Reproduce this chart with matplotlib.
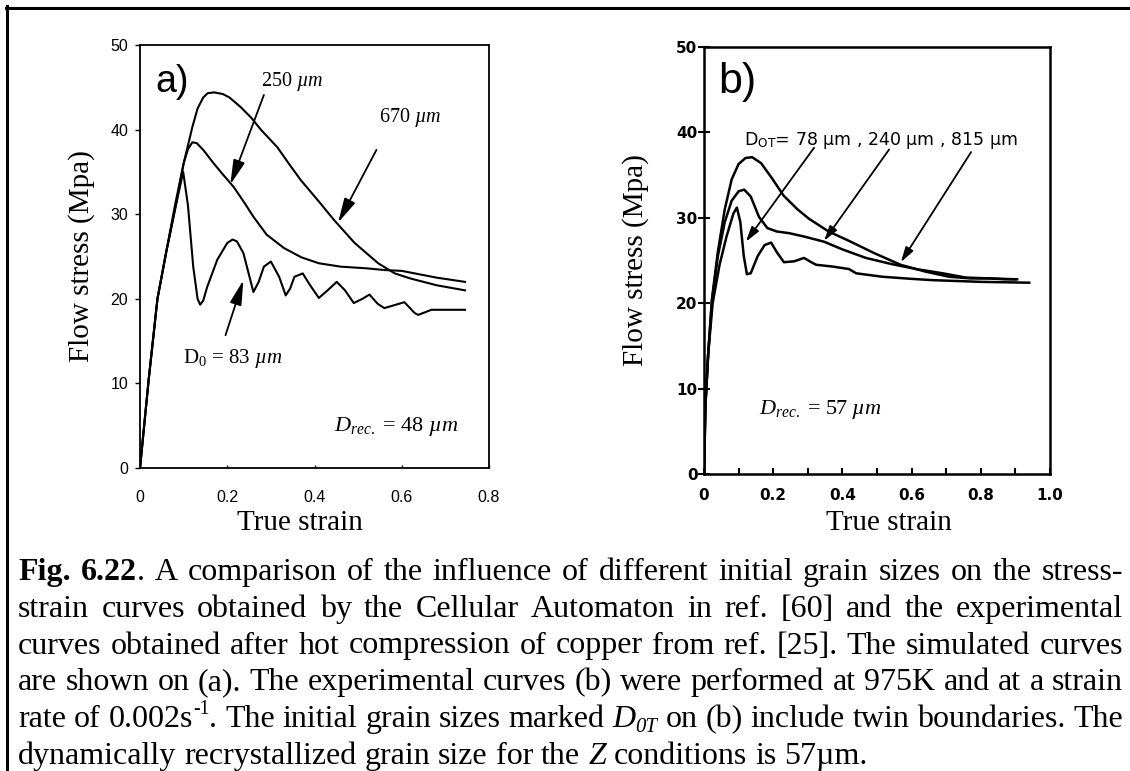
import matplotlib
matplotlib.use("Agg")
import matplotlib.pyplot as plt
from matplotlib.lines import Line2D
from matplotlib.transforms import IdentityTransform

plt.rcParams['mathtext.fontset'] = 'custom'
plt.rcParams['mathtext.rm'] = 'Liberation Serif'
plt.rcParams['mathtext.it'] = 'Liberation Serif:italic'
plt.rcParams['mathtext.bf'] = 'Liberation Serif:bold'

# ---------------- data: panel a (simulated, CA) ----------------
a_strain_670 = [0, 0.02, 0.04, 0.06, 0.08, 0.10, 0.12, 0.132, 0.145, 0.155, 0.17, 0.19, 0.205,
                0.23, 0.255, 0.277, 0.315, 0.345, 0.369, 0.41, 0.445, 0.492, 0.546, 0.584,
                0.62, 0.68, 0.745]
a_stress_670 = [0, 10.5, 20, 25.5, 31, 36, 40.3, 42.5, 43.8, 44.3, 44.4, 44.2, 43.8,
                42.7, 41.4, 40.0, 37.9, 35.7, 34.0, 31.5, 29.3, 26.6, 24.2, 23.0,
                22.4, 21.6, 21.0]

a_strain_250 = [0, 0.02, 0.04, 0.06, 0.08, 0.10, 0.11, 0.12, 0.13, 0.145, 0.169, 0.19, 0.215,
                0.24, 0.26, 0.29, 0.33, 0.37, 0.41, 0.46, 0.52, 0.56, 0.60, 0.68, 0.745]
a_stress_250 = [0, 10.5, 20, 25.5, 30.5, 36, 37.7, 38.5, 38.4, 37.6, 36.0, 34.7, 33.2,
                31.3, 29.7, 27.6, 26.0, 24.9, 24.2, 23.8, 23.6, 23.4, 23.3, 22.5, 22.0]

a_strain_83 = [0, 0.02, 0.04, 0.06, 0.08, 0.099, 0.11, 0.122, 0.132, 0.138, 0.145, 0.154, 0.177,
               0.20, 0.212, 0.222, 0.237, 0.249, 0.26, 0.272, 0.284, 0.30, 0.319, 0.334, 0.344,
               0.354, 0.373, 0.39, 0.41, 0.43, 0.451, 0.47, 0.49, 0.51, 0.526, 0.545, 0.56, 0.58,
               0.606, 0.63, 0.638, 0.668, 0.70, 0.745]
a_stress_83 = [0, 10.5, 20, 25.5, 30.5, 35, 31, 23.8, 20.0, 19.3, 19.8, 21.4, 24.6,
               26.6, 27.0, 26.8, 25.4, 23.0, 20.8, 22.0, 23.8, 24.4, 22.6, 20.4, 21.2,
               22.6, 23.0, 21.6, 20.1, 21.0, 22.0, 21.0, 19.5, 20.0, 20.5, 19.4, 18.9, 19.2,
               19.6, 18.3, 18.1, 18.7, 18.7, 18.7]

# ---------------- data: panel b (experimental) ----------------
b_strain_815 = [0, 0.004, 0.012, 0.023, 0.04, 0.06, 0.08, 0.10, 0.12, 0.139, 0.165, 0.197,
                0.23, 0.27, 0.303, 0.36, 0.419, 0.49, 0.568, 0.64, 0.708, 0.77, 0.824, 0.87, 0.905]
b_stress_815 = [0, 8, 14, 20.5, 26, 31, 34.5, 36.3, 37.0, 37.1, 36.4, 34.6,
                32.6, 31.0, 29.9, 28.4, 27.3, 25.9, 24.5, 23.7, 23.1, 22.9, 22.9, 22.8, 22.8]

b_strain_240 = [0, 0.004, 0.012, 0.023, 0.04, 0.06, 0.08, 0.10, 0.116, 0.135, 0.159, 0.183,
                0.21, 0.246, 0.29, 0.347, 0.40, 0.468, 0.54, 0.613, 0.69, 0.757, 0.83, 0.90]
b_stress_240 = [0, 8, 14, 20.3, 25.5, 29.5, 32, 33.1, 33.3, 32.5, 30.1, 28.8,
                28.4, 28.2, 27.8, 27.2, 26.3, 25.3, 24.6, 24.0, 23.5, 23.0, 22.9, 22.8]

b_strain_78 = [0, 0.004, 0.012, 0.025, 0.045, 0.065, 0.085, 0.095, 0.105, 0.115, 0.124, 0.135,
               0.155, 0.175, 0.194, 0.21, 0.231, 0.26, 0.289, 0.31, 0.324, 0.37, 0.419, 0.44,
               0.515, 0.60, 0.66, 0.80, 0.94]
b_stress_78 = [0, 8, 14, 20, 24.5, 27.8, 30.5, 31.2, 29.5, 25.5, 23.4, 23.5,
               25.5, 26.8, 27.1, 26.0, 24.8, 24.9, 25.3, 24.8, 24.5, 24.3, 24.0, 23.5,
               23.1, 22.85, 22.7, 22.5, 22.4]

a_yticks = [0, 10, 20, 30, 40, 50]
a_xticks = [0, 0.2, 0.4, 0.6, 0.8]
a_xticklabels = ["0", "0.2", "0.4", "0.6", "0.8"]
b_yticks = [0, 10, 20, 30, 40, 50]
b_xticks = [0, 0.1, 0.2, 0.3, 0.4, 0.5, 0.6, 0.7, 0.8, 0.9, 1.0]
b_xticklabels = ["0", "", "0.2", "", "0.4", "", "0.6", "", "0.8", "", "1.0"]

# ---------------- figure ----------------
W, H, DPI = 1130, 771, 100
fig = plt.figure(figsize=(W / DPI, H / DPI), dpi=DPI)


def px_axes(l, t, r, b):
    return [l / W, 1 - b / H, (r - l) / W, (b - t) / H]


SERIF = 'Liberation Serif'
SANS = 'Liberation Sans'

# ----- panel a -----
axa = fig.add_axes(px_axes(140, 45, 489, 468))
for xs, ys in [(a_strain_670, a_stress_670), (a_strain_250, a_stress_250), (a_strain_83, a_stress_83)]:
    axa.plot(xs, ys, color='black', lw=1.5, solid_joinstyle='round')
axa.set_xlim(0, 0.8)
axa.set_ylim(0, 50)
axa.set_yticks(a_yticks)
axa.set_xticks(a_xticks)
axa.set_xticklabels(a_xticklabels)
for s in axa.spines.values():
    s.set_linewidth(1.3)
axa.tick_params(axis='y', direction='out', length=3.6, width=1.0, pad=5, labelsize=11.5)
axa.tick_params(axis='x', direction='in', length=2.5, width=1.0, pad=16, labelsize=11.5)
for lab in axa.get_xticklabels() + axa.get_yticklabels():
    lab.set_fontfamily(SANS)

axa.text(0.074, 45.6, "a)", fontsize=27, fontfamily=SANS, ha='center', va='center')
axa.text(0.348, 45.7, r"250 $\mathit{µm}$", fontsize=14.5, fontfamily=SERIF, ha='center', va='center')
axa.text(0.62, 41.4, r"670 $\mathit{µm}$", fontsize=14.5, fontfamily=SERIF, ha='center', va='center')
axa.text(0.212, 12.9, r"D$_0$ = 83 $\mathit{µm}$", fontsize=15, fontfamily=SERIF, ha='center', va='center')
axa.text(0.588, 4.85, r"$D_{rec.}$ = 48 $\mathit{µm}$", fontsize=16, fontfamily=SERIF, ha='center', va='center')

arr_a = dict(arrowstyle='-|>,head_length=0.75,head_width=0.18', lw=1.3, color='black',
             shrinkA=0, shrinkB=0, mutation_scale=20)
axa.annotate('', xy=(0.207, 33.5), xytext=(0.284, 44.1), arrowprops=arr_a)
axa.annotate('', xy=(0.454, 29.0), xytext=(0.542, 37.6), arrowprops=arr_a)
axa.annotate('', xy=(0.237, 22.2), xytext=(0.196, 15.7), arrowprops=arr_a)

# ----- panel b -----
axb = fig.add_axes(px_axes(704, 47, 1050, 474))
for xs, ys in [(b_strain_815, b_stress_815), (b_strain_240, b_stress_240), (b_strain_78, b_stress_78)]:
    axb.plot(xs, ys, color='black', lw=1.8, solid_joinstyle='round')
axb.set_xlim(0, 1.0)
axb.set_ylim(0, 50)
axb.set_yticks(b_yticks)
axb.set_xticks(b_xticks)
axb.set_xticklabels(b_xticklabels)
for s in axb.spines.values():
    s.set_linewidth(1.8)
axb.tick_params(axis='y', direction='inout', length=8.5, width=1.5, pad=0.5, labelsize=11)
axb.tick_params(axis='x', direction='in', length=4, width=1.5, pad=10, labelsize=11)
for lab in axb.get_xticklabels() + axb.get_yticklabels():
    lab.set_fontfamily('DejaVu Sans')
    lab.set_fontweight('bold')

axb.text(0.095, 45.9, "b)", fontsize=31, fontfamily=SANS, ha='center', va='center')
axb.text(0.116, 39.1, r"D$_\mathregular{OT}$= 78 µm , 240 µm , 815 µm", fontsize=12.5,
         fontfamily='DejaVu Sans', ha='left', va='center')
axb.text(0.338, 7.6, r"$D_{rec.}$ = 57 $\mathit{µm}$", fontsize=16, fontfamily=SERIF, ha='center', va='center')

arr_b = dict(arrowstyle='-|>,head_length=0.45,head_width=0.13', lw=1.3, color='black',
             shrinkA=0, shrinkB=0, mutation_scale=20)
axb.annotate('', xy=(0.121, 27.2), xytext=(0.318, 38.2), arrowprops=arr_b)
axb.annotate('', xy=(0.347, 27.3), xytext=(0.535, 38.0), arrowprops=arr_b)
axb.annotate('', xy=(0.569, 24.8), xytext=(0.772, 37.7), arrowprops=arr_b)

# ----- axis labels -----
fig.text(82 / W, 1 - 256 / H, "Flow stress (Mpa)", rotation=90, fontsize=21, fontfamily=SERIF,
         ha='center', va='center')
fig.text(636 / W, 1 - 260 / H, "Flow stress (Mpa)", rotation=90, fontsize=21, fontfamily=SERIF,
         ha='center', va='center')
fig.text(300 / W, 1 - 530 / H, "True strain", fontsize=21, fontfamily=SERIF, ha='center', va='baseline')
fig.text(889 / W, 1 - 530 / H, "True strain", fontsize=21, fontfamily=SERIF, ha='center', va='baseline')

# ----- outer frame lines -----
fig.add_artist(Line2D([6 / W, 1.0], [1 - 7.5 / H, 1 - 7.5 / H], transform=fig.transFigure,
                      color='black', lw=2.2))
fig.add_artist(Line2D([6.5 / W, 6.5 / W], [0, 1 - 6 / H], transform=fig.transFigure,
                      color='black', lw=2.2))

# ----- caption (justified) -----
CAP_FS = 23
cap_lines = [
    [[("Fig.", 'b')], [("6.22", 'b'), (".", 'r')], "A", "comparison", "of", "the", "influence", "of",
     "different", "initial", "grain", "sizes", "on", "the", "stress-"],
    ["strain", "curves", "obtained", "by", "the", "Cellular", "Automaton", "in", "ref.", "[60]", "and",
     "the", "experimental"],
    ["curves", "obtained", "after", "hot", "compression", "of", "copper", "from", "ref.", "[25].", "The",
     "simulated", "curves"],
    ["are", "shown", "on", "(a).", "The", "experimental", "curves", "(b)", "were", "performed", "at",
     "975K", "and", "at", "a", "strain"],
    ["rate", "of", [("0.002s", 'r'), ("-1", 'sup'), (".", 'r')], "The", "initial", "grain", "sizes",
     "marked", [("D", 'i'), ("0T", 'subi')], "on", "(b)", "include", "twin", "boundaries.", "The"],
    ["dynamically", "recrystallized", "grain", "size", "for", "the", [("Z", 'i')], "conditions", "is",
     "57µm."],
]
cap_baselines = [580, 616.75, 653.5, 690.25, 727, 763.75]
CAP_L, CAP_R = 18, 1123

renderer = fig.canvas.get_renderer()
px_per_pt = DPI / 72.0


def draw_line(words, y_base, justify):
    items = []
    for w in words:
        segs = [(w, 'r')] if isinstance(w, str) else w
        objs = []
        for s, st in segs:
            kw = dict(fontfamily=SERIF, fontsize=CAP_FS, va='baseline', ha='left',
                      transform=IdentityTransform())
            dy = 0.0
            if st == 'b':
                kw['fontweight'] = 'bold'
            elif st == 'i':
                kw['fontstyle'] = 'italic'
            elif st == 'sup':
                kw['fontsize'] = CAP_FS * 0.62
                dy = CAP_FS * 0.42 * px_per_pt
            elif st == 'subi':
                kw['fontsize'] = CAP_FS * 0.65
                kw['fontstyle'] = 'italic'
                dy = -CAP_FS * 0.15 * px_per_pt
            t = fig.text(0, 0, s, **kw)
            objs.append((t, dy))
        items.append(objs)
    widths = [[t.get_window_extent(renderer).width for t, _ in objs] for objs in items]
    totals = [sum(ws) for ws in widths]
    if justify:
        gap = (CAP_R - CAP_L - sum(totals)) / (len(items) - 1)
    else:
        gap = 0.25 * CAP_FS * px_per_pt
    x = CAP_L
    for objs, ws in zip(items, widths):
        xx = x
        for (t, dy), wd in zip(objs, ws):
            t.set_position((xx, H - y_base + dy))
            xx += wd
        x += sum(ws) + gap


for i, (words, yb) in enumerate(zip(cap_lines, cap_baselines)):
    draw_line(words, yb, justify=(i < len(cap_lines) - 1))

fig.savefig("out.png", dpi=DPI)
